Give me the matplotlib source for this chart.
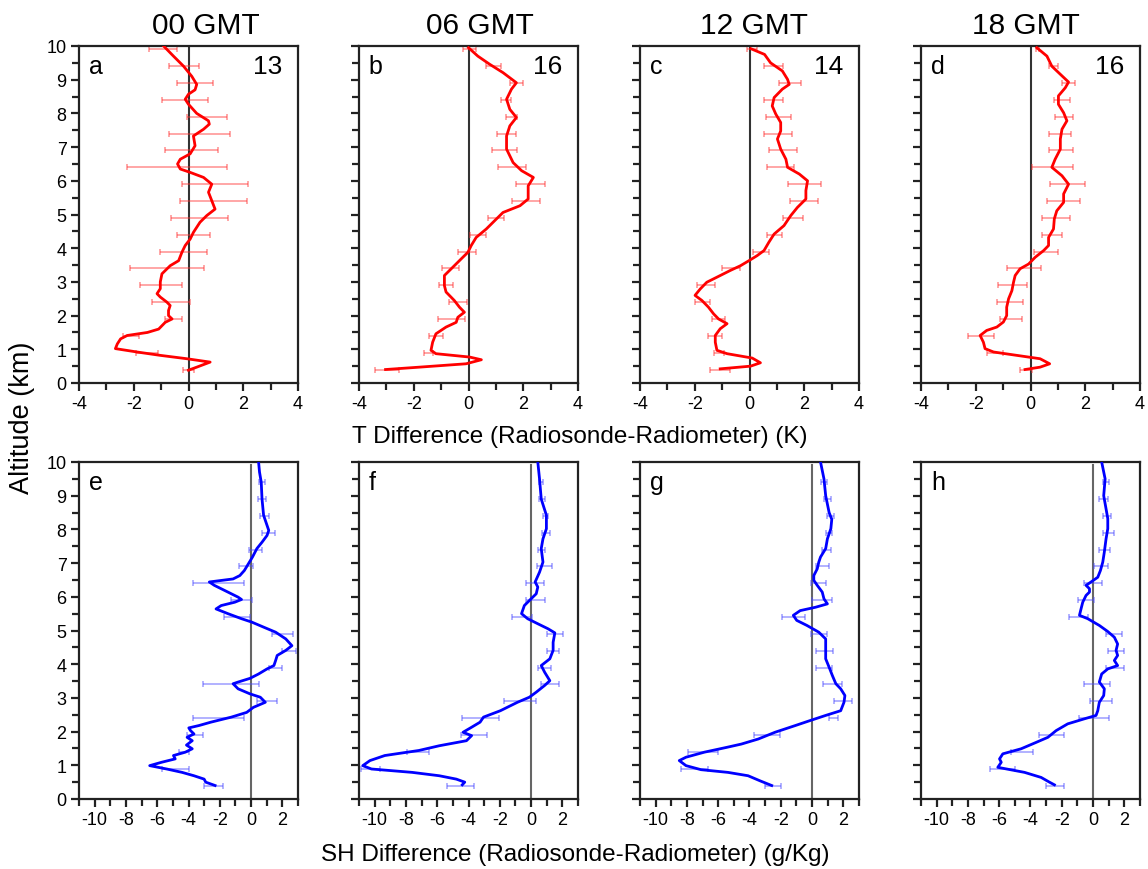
import numpy as np
import matplotlib
matplotlib.use("Agg")
import matplotlib.pyplot as plt

plt.rcParams['font.family'] = ['Liberation Sans', 'DejaVu Sans']
plt.rcParams['axes.unicode_minus'] = False

# ---------------- data: temperature difference (K) ----------------
ta_alt = [10.0, 9.7, 9.4, 9.1, 8.86, 8.7, 8.57, 8.42, 8.27, 8.0, 7.78, 7.68, 7.53, 7.33, 7.04, 6.8, 6.64, 6.5, 6.35,
          6.25, 6.1, 5.9, 5.66, 5.41, 5.16, 4.97, 4.77, 4.47, 4.27, 4.08, 3.88, 3.63, 3.48, 3.24, 3.0, 2.8, 2.65, 2.55,
          2.4, 2.3, 2.15, 2.0, 1.9, 1.8, 1.6, 1.5, 1.41, 1.31, 1.16, 1.02, 0.92, 0.82, 0.72, 0.62, 0.47, 0.38]
ta_val = [-0.91, -0.55, -0.18, 0.12, 0.3, 0.24, 0.0, -0.12, 0.0, 0.3, 0.73, 0.76, 0.55, 0.18, 0.24, 0.06, -0.3, -0.4,
          -0.3, 0.06, 0.55, 0.85, 0.73, 0.85, 0.97, 0.67, 0.42, 0.18, 0.06, -0.12, -0.24, -0.36, -0.67, -0.97, -1.03,
          -1.03, -1.15, -1.03, -0.79, -0.67, -0.73, -0.73, -0.6, -0.85, -1.09, -1.5, -2.24, -2.48, -2.6, -2.67, -1.88,
          -1.03, -0.06, 0.79, 0.3, 0.0]
tb_alt = [9.95, 9.7, 9.46, 9.21, 8.91, 8.72, 8.42, 8.12, 7.88, 7.63, 7.33, 6.94, 6.54, 6.3, 6.1, 5.85, 5.46, 5.26, 5.06,
          4.82, 4.57, 4.32, 4.08, 3.88, 3.68, 3.43, 3.19, 2.89, 2.7, 2.45, 2.25, 2.1, 1.95, 1.8, 1.66, 1.46, 1.21, 0.97,
          0.87, 0.77, 0.69, 0.57, 0.47, 0.4]
tb_val = [0.0, 0.34, 0.77, 1.26, 1.75, 1.57, 1.39, 1.51, 1.75, 1.51, 1.39, 1.39, 1.63, 1.94, 2.37, 2.18, 2.18, 1.88,
          1.26, 0.96, 0.65, 0.28, 0.1, -0.02, -0.27, -0.58, -0.88, -0.88, -0.82, -0.52, -0.33, -0.15, -0.39, -0.45,
          -0.82, -1.19, -1.31, -1.37, -1.19, 0.04, 0.47, -0.09, -1.8, -3.03]
tc_alt = [9.92, 9.75, 9.5, 9.26, 9.01, 8.86, 8.72, 8.47, 8.22, 7.98, 7.73, 7.48, 7.24, 6.94, 6.64, 6.4, 6.2, 6.0, 5.71,
          5.46, 5.21, 4.97, 4.67, 4.42, 4.18, 3.93, 3.78, 3.63, 3.48, 3.34, 3.14, 2.99, 2.79, 2.6, 2.45, 2.25, 2.05, 1.9,
          1.76, 1.61, 1.41, 1.21, 0.97, 0.87, 0.74, 0.6, 0.5, 0.42]
tc_val = [0.05, 0.55, 0.77, 1.2, 1.39, 1.45, 1.2, 0.9, 0.83, 0.96, 1.14, 1.14, 1.02, 1.14, 1.33, 1.39, 1.82, 2.12, 2.06,
          2.06, 1.75, 1.51, 1.26, 0.9, 0.71, 0.53, 0.28, -0.02, -0.33, -0.7, -1.19, -1.56, -1.8, -1.99, -1.74, -1.5,
          -1.31, -1.13, -0.82, -1.07, -1.25, -1.25, -1.19, -0.82, 0.1, 0.4, 0.04, -1.07]
td_alt = [9.95, 9.7, 9.4, 9.16, 8.93, 8.76, 8.52, 8.27, 8.02, 7.78, 7.53, 7.24, 6.94, 6.64, 6.4, 6.15, 5.9, 5.61, 5.36,
          5.11, 4.87, 4.57, 4.32, 4.08, 3.93, 3.73, 3.53, 3.39, 3.19, 2.99, 2.74, 2.5, 2.25, 2.0, 1.81, 1.66, 1.56, 1.41,
          1.21, 1.02, 0.92, 0.82, 0.72, 0.57, 0.47, 0.4]
td_val = [0.23, 0.6, 0.78, 1.09, 1.39, 1.27, 1.02, 1.02, 1.21, 1.33, 1.15, 1.09, 1.09, 0.9, 0.78, 1.15, 1.39, 1.21, 1.21,
          0.96, 0.87, 0.84, 0.66, 0.66, 0.48, 0.17, -0.07, -0.38, -0.56, -0.62, -0.68, -0.8, -0.87, -0.87, -0.99, -1.23,
          -1.6, -1.84, -1.72, -1.66, -1.35, -0.5, 0.35, 0.7, 0.35, -0.2]

# error bars for T (lower / upper limits) at fixed levels
t_err_alt = [9.9, 9.4, 8.9, 8.4, 7.9, 7.4, 6.9, 6.4, 5.9, 5.4, 4.9, 4.4, 3.9, 3.4, 2.9, 2.4, 1.9, 1.4, 0.9, 0.4]
ta_lo = [-1.43, -0.73, -0.42, -0.97, -0.06, -0.73, -0.85, -2.24, -0.24, -0.3, -0.64, -0.42, -1.05, -2.15, -1.78,
         -1.33, -0.85, -2.4, -1.9, -0.2]
ta_hi = [-0.42, 0.39, 0.91, 0.72, 1.39, 1.52, 1.09, 1.39, 2.18, 2.12, 1.45, 0.79, 0.67, 0.55, -0.24, 0.06, -0.24,
         -1.8, -1.1, 0.2]
tb_lo = [-0.2, 0.65, 1.51, 1.2, 1.36, 1.04, 0.87, 1.08, 1.73, 1.6, 0.71, 0.04, -0.39, -0.98, -1.09, -0.72, -1.12,
         -1.46, -1.62, -3.4]
tb_hi = [0.28, 1.2, 2.0, 1.57, 1.78, 1.73, 1.78, 2.1, 2.8, 2.6, 1.29, 0.65, 0.28, -0.33, -0.55, -0.06, -0.11, -0.92,
         -1.29, -2.54]
tc_lo = [-0.09, 0.53, 1.08, 0.53, 0.59, 0.53, 0.71, 0.65, 1.42, 1.48, 1.24, 0.65, 0.13, -1.0, -1.93, -1.99, -1.37,
         -1.5, -1.31, -1.44]
tc_hi = [0.28, 1.24, 1.88, 1.24, 1.51, 1.54, 1.73, 1.63, 2.61, 2.49, 1.94, 1.2, 0.71, -0.33, -1.25, -1.44, -0.88,
         -1.0, -0.94, -0.7]
td_lo = [0.2, 0.66, 1.15, 0.87, 0.9, 0.66, 0.66, 0.05, 0.7, 0.6, 0.41, 0.41, 0.13, -0.87, -1.17, -1.21, -1.11, -2.3,
         -1.6, -0.38]
td_hi = [0.3, 0.99, 1.63, 1.43, 1.57, 1.48, 1.55, 1.55, 2.0, 1.82, 1.45, 1.15, 0.99, 0.38, -0.11, -0.29, -0.32,
         -1.33, -0.99, 0.05]

# ---------------- data: specific humidity difference (g/Kg) ----------------
se_alt = [10.0, 9.7, 9.4, 8.9, 8.42, 8.12, 7.97, 7.82, 7.62, 7.43, 7.18, 6.98, 6.78, 6.63, 6.53, 6.44, 6.34, 6.14, 5.99,
          5.92, 5.84, 5.74, 5.64, 5.5, 5.35, 5.25, 5.1, 4.95, 4.75, 4.55, 4.41, 4.26, 4.11, 3.96, 3.86, 3.71, 3.58,
          3.47, 3.42, 3.27, 3.12, 3.02, 2.87, 2.72, 2.57, 2.43, 2.28, 2.18, 2.11, 2.03, 1.93, 1.83, 1.73, 1.6, 1.49,
          1.39, 1.29, 1.19, 1.09, 0.99, 0.89, 0.79, 0.69, 0.59, 0.5, 0.4]
se_val = [0.48, 0.54, 0.65, 0.7, 0.8, 1.02, 1.13, 1.02, 0.7, 0.37, 0.09, -0.17, -0.43, -0.72, -1.15, -2.67, -2.35,
          -1.48, -0.83, -0.61, -1.04, -1.91, -2.24, -1.48, -0.61, 0.04, 0.8, 1.57, 2.22, 2.61, 2.22, 1.67, 1.57, 1.46,
          1.02, 0.48, -0.07, -0.83, -1.15, -0.83, -0.07, 0.59, 0.91, 0.15, -0.28, -1.26, -2.57, -3.33, -3.98, -3.87,
          -3.65, -4.09, -3.76, -4.13, -3.76, -4.2, -4.96, -4.85, -5.72, -6.48, -5.39, -4.41, -3.65, -3.0, -2.9, -2.3]
sf_alt = [10.0, 9.5, 8.9, 8.42, 8.02, 7.72, 7.43, 7.03, 6.73, 6.44, 6.29, 6.09, 5.94, 5.74, 5.5, 5.35, 5.2, 5.05, 4.93,
          4.65, 4.41, 4.16, 3.96, 3.76, 3.51, 3.37, 3.17, 3.02, 2.87, 2.62, 2.43, 2.28, 2.13, 1.98, 1.88, 1.73, 1.58,
          1.44, 1.29, 1.14, 0.99, 0.89, 0.79, 0.69, 0.59, 0.5, 0.42]
sf_val = [0.43, 0.54, 0.65, 0.98, 0.98, 0.76, 0.65, 0.76, 0.54, 0.26, 0.43, 0.33, 0.0, -0.43, -0.61, -0.22, 0.43, 1.09,
          1.52, 1.41, 1.41, 1.2, 0.65, 0.87, 1.2, 0.87, 0.33, -0.11, -0.87, -1.96, -3.04, -3.26, -3.8, -4.35, -3.8,
          -4.13, -5.87, -7.17, -9.35, -10.3, -10.76, -10.2, -7.6, -5.87, -4.78, -4.24, -4.4]
sg_alt = [10.0, 9.5, 9.0, 8.5, 8.3, 8.02, 7.72, 7.43, 7.18, 7.03, 6.83, 6.63, 6.49, 6.34, 6.14, 5.94, 5.79, 5.69, 5.59,
          5.45, 5.3, 5.15, 4.95, 4.75, 4.46, 4.16, 3.91, 3.66, 3.42, 3.27, 3.07, 2.87, 2.62, 2.48, 2.33, 2.18, 1.98,
          1.78, 1.63, 1.53, 1.39, 1.24, 1.14, 0.99, 0.87, 0.79, 0.69, 0.54, 0.4]
sg_val = [0.54, 0.76, 0.87, 1.09, 1.26, 1.2, 0.98, 0.87, 0.54, 0.43, 0.33, 0.11, 0.11, 0.33, 0.65, 0.76, 0.98, 0.22,
          -0.76, -1.2, -0.98, -0.33, 0.43, 0.87, 0.87, 0.87, 1.09, 1.3, 1.52, 1.83, 2.1, 2.04, 1.83, 0.87, -0.11, -1.07,
          -2.37, -3.44, -4.52, -5.48, -6.88, -8.06, -8.49, -8.06, -7.1, -5.38, -4.09, -3.33, -2.58]
sh_alt = [10.0, 9.5, 9.0, 8.61, 8.32, 8.02, 7.72, 7.33, 7.03, 6.78, 6.58, 6.44, 6.34, 6.24, 6.14, 6.04, 5.84, 5.64,
          5.45, 5.35, 5.15, 4.97, 4.8, 4.6, 4.41, 4.26, 4.11, 3.96, 3.86, 3.71, 3.47, 3.27, 3.07, 2.87, 2.62, 2.48,
          2.38, 2.23, 2.03, 1.83, 1.68, 1.49, 1.34, 1.19, 1.09, 0.94, 0.79, 0.64, 0.5, 0.42]
sh_val = [0.55, 0.77, 0.68, 0.83, 0.94, 0.94, 0.83, 0.72, 0.62, 0.47, 0.3, -0.13, -0.45, -0.23, -0.23, -0.45, -0.66,
          -0.77, -0.87, -0.34, 0.4, 0.94, 1.36, 1.57, 1.47, 1.57, 1.36, 1.57, 0.94, 0.55, 0.4, 0.72, 0.68, 0.4, 0.3,
          0.19, -0.55, -1.62, -2.36, -2.89, -3.64, -4.6, -5.77, -5.98, -5.87, -6.09, -4.38, -3.32, -2.79, -2.47]

s_err_alt = [9.4, 8.9, 8.4, 7.9, 7.4, 6.9, 6.4, 5.9, 5.4, 4.9, 4.4, 3.9, 3.4, 2.9, 2.4, 1.9, 1.4, 0.9, 0.4]
se_lo = [0.48, 0.43, 0.59, 0.7, -0.13, -0.78, -3.7, -1.26, -1.74, 1.35, 1.96, 1.13, -3.1, 0.37, -3.7, -4.09, -4.63,
         -5.72, -3.0]
se_hi = [0.91, 0.98, 1.13, 1.52, 0.7, 0.15, -0.43, 0.04, -0.07, 2.65, 2.87, 2.0, 0.48, 1.67, -0.43, -3.1, -3.98,
         -3.98, -1.8]
sf_lo = [0.48, 0.48, 0.76, 0.7, 0.43, 0.39, -0.33, -0.33, -1.2, 1.04, 1.04, 0.43, 0.61, -1.7, -4.39, -4.46, -7.93,
         -10.87, -5.39]
sf_hi = [0.74, 0.87, 1.09, 1.22, 0.91, 1.35, 0.8, 0.91, 0.04, 2.02, 1.8, 1.26, 1.78, 0.33, -2.07, -2.83, -6.52,
         -9.67, -3.65]
sg_lo = [0.54, 0.75, 0.97, 0.86, 0.65, 0.26, -0.04, 0.0, -1.94, -0.04, 0.22, 0.22, 0.71, 1.4, 1.08, -3.7, -7.91,
         -8.39, -3.01]
sg_hi = [0.97, 1.18, 1.4, 1.29, 1.18, 1.08, 0.86, 1.29, -0.43, 0.97, 1.33, 1.25, 1.94, 2.58, 1.68, -2.04, -6.02,
         -6.67, -1.98]
sh_lo = [0.62, 0.4, 0.62, 0.62, 0.4, 0.09, -0.55, -0.94, -1.51, 0.83, 0.94, 0.83, -0.55, -0.17, -0.87, -3.43, -5.23,
         -6.62, -3.0]
sh_hi = [1.04, 0.94, 1.15, 1.36, 1.11, 0.98, 0.55, 0.04, -0.3, 1.83, 1.96, 1.96, 1.11, 1.19, 1.04, -1.87, -3.85,
         -5.02, -1.83]

titles = ['00 GMT', '06 GMT', '12 GMT', '18 GMT']
top_letters = ['a', 'b', 'c', 'd']
bot_letters = ['e', 'f', 'g', 'h']
counts = ['13', '16', '14', '16']

# ---------------- figure ----------------
W, H = 1148, 870
fig = plt.figure(figsize=(W / 100, H / 100), dpi=100)

lefts = [79, 359, 640, 921]
aw = 219
top_y0, top_y1 = 47, 384
bot_y0, bot_y1 = 463, 800


def make_ax(xpx, y0, y1):
    return fig.add_axes([xpx / W, 1 - y1 / H, aw / W, (y1 - y0) / H])


def style(ax, first, xlim, xmaj, xmin):
    ax.set_ylim(0, 10)
    ax.set_xlim(*xlim)
    ax.set_yticks(np.arange(0, 11, 1))
    ax.set_yticks(np.arange(0, 10.01, 0.5), minor=True)
    ax.set_xticks(xmaj)
    ax.set_xticks(xmin, minor=True)
    ax.tick_params(axis='both', which='major', direction='out', length=6, width=1.6,
                   labelsize=13, color='#222222', pad=3)
    ax.tick_params(axis='both', which='minor', direction='out', length=5, width=1.6, color='#222222')
    if not first:
        ax.tick_params(axis='y', labelleft=False)
    for s in ax.spines.values():
        s.set_linewidth(1.6)
        s.set_color('#222222')


tdata = [(ta_alt, ta_val, ta_lo, ta_hi), (tb_alt, tb_val, tb_lo, tb_hi),
         (tc_alt, tc_val, tc_lo, tc_hi), (td_alt, td_val, td_lo, td_hi)]
sdata = [(se_alt, se_val, se_lo, se_hi), (sf_alt, sf_val, sf_lo, sf_hi),
         (sg_alt, sg_val, sg_lo, sg_hi), (sh_alt, sh_val, sh_lo, sh_hi)]

title_x = [206, 480, 754, 1026]

for i in range(4):
    # temperature row
    ax = make_ax(lefts[i], top_y0, top_y1)
    alt, val, lo, hi = tdata[i]
    ax.axvline(0, color='#333333', lw=1.5, zorder=1)
    lo_a, hi_a = np.array(lo), np.array(hi)
    ax.errorbar((lo_a + hi_a) / 2, t_err_alt, xerr=(hi_a - lo_a) / 2, fmt='none',
                ecolor=(1, 0.2, 0.2, 0.55), elinewidth=1.1, capsize=2, capthick=1.1, zorder=2)
    ax.plot(val, alt, color='#ff0000', lw=2.0, zorder=3, solid_joinstyle='round')
    style(ax, i == 0, (-4, 4), [-4, -2, 0, 2, 4], np.arange(-4, 4.01, 1))
    ax.text(0.045, 0.975, top_letters[i], transform=ax.transAxes, fontsize=18, va='top', ha='left')
    ax.text(0.93, 0.975, counts[i], transform=ax.transAxes, fontsize=19, va='top', ha='right')
    fig.text(title_x[i] / W, 1 - 26 / H, titles[i], fontsize=21.5, ha='center', va='center')

    # humidity row
    ax2 = make_ax(lefts[i], bot_y0, bot_y1)
    alt, val, lo, hi = sdata[i]
    ax2.axvline(0, ymax=0.99, color='#666666', lw=1.5, zorder=1)
    lo_a, hi_a = np.array(lo), np.array(hi)
    ax2.errorbar((lo_a + hi_a) / 2, s_err_alt, xerr=(hi_a - lo_a) / 2, fmt='none',
                 ecolor=(0.3, 0.3, 1, 0.55), elinewidth=1.1, capsize=2, capthick=1.1, zorder=2)
    ax2.plot(val, alt, color='#0000ff', lw=2.0, zorder=3, solid_joinstyle='round')
    style(ax2, i == 0, (-11, 3), [-10, -8, -6, -4, -2, 0, 2], np.arange(-11, 3.01, 1))
    ax2.text(0.045, 0.975, bot_letters[i], transform=ax2.transAxes, fontsize=18, va='top', ha='left')

fig.text(580 / W, 1 - 437 / H, 'T Difference (Radiosonde-Radiometer) (K)', fontsize=17.5, ha='center', va='center')
fig.text(575 / W, 1 - 855 / H, 'SH Difference (Radiosonde-Radiometer) (g/Kg)', fontsize=17.5, ha='center', va='center')
fig.text(22 / W, 1 - 418 / H, 'Altitude (km)', fontsize=19.5, ha='center', va='center', rotation=90)

fig.savefig('out.png', dpi=100)
